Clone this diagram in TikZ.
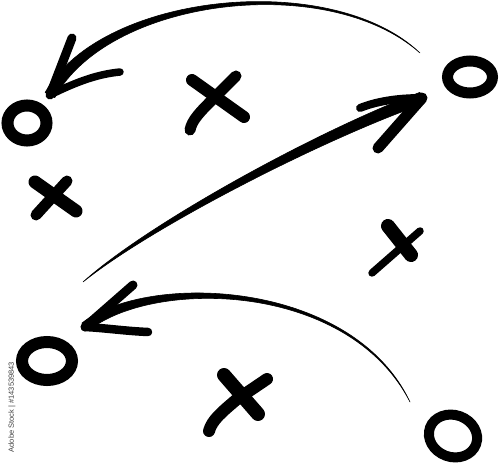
\documentclass[tikz,border=0pt]{standalone}
\usepackage{fontspec}
\setsansfont{Liberation Sans}
\begin{document}
\begin{tikzpicture}[x=1pt,y=-1pt,
  ring/.style={draw=black,line width=#1},
  stroke/.style={draw=black,line width=#1,line cap=round,line join=round},
  shaft/.style={fill=black,draw=black,line width=0.6pt,line join=round},
  mark text/.style={font=\sffamily\fontsize{7.5}{8}\selectfont,text=black!75,inner sep=0pt}]
\useasboundingbox (0,0) rectangle (500,470);

% players (circles)
\coordinate (o1) at (27,123);
\coordinate (o2) at (470,77);
\coordinate (o3) at (47,361);
\coordinate (o4) at (453,436);
\draw[ring=12] (o1) ellipse [x radius=19.5, y radius=17.5];
\draw[ring=11] (o2) ellipse [x radius=22.5, y radius=16];
\draw[ring=12] (o3) ellipse [x radius=25, y radius=19];
\draw[ring=10] (o4) [rotate around={-20:(o4)}] ellipse [x radius=24.5, y radius=21];

% opponents (crosses)
\coordinate (xa1) at (192,80);  \coordinate (xa2) at (244,117);
\coordinate (xa3) at (236,76);  \coordinate (xa4) at (190,130);
\draw[stroke=12] (xa1) -- (xa2);
\draw[stroke=11] (xa3) -- (214,98) .. controls (200,112) and (192,120) .. (xa4);

\coordinate (xb1) at (35,182);  \coordinate (xb2) at (76,211);
\coordinate (xb3) at (67,181);  \coordinate (xb4) at (36,215);
\draw[stroke=13] (xb1) -- (xb2);
\draw[stroke=11] (xb3) -- (xb4);

\coordinate (xc1) at (388,226); \coordinate (xc2) at (411,255);
\coordinate (xc3) at (420,231); \coordinate (xc4) at (372,273);
\draw[stroke=14] (xc1) -- (xc2);
\draw[stroke=7.5] (xc3) -- (xc4);

\coordinate (xd1) at (224,375); \coordinate (xd2) at (258,414);
\coordinate (xd3) at (267,379); \coordinate (xd4) at (209,431);
\draw[stroke=14] (xd1) -- (xd2);
\draw[stroke=12] (xd3) -- (236,400) .. controls (222,412) and (212,420) .. (xd4);

% top arrow: from right player back to top-left player
\coordinate (ta) at (50,95);
\coordinate (te) at (420,53);
\coordinate (tb1) at (72,38);
\coordinate (tb2) at (120,72);
\fill[shaft] (45.2,92.4) .. controls (100.6,-7.4) and (331.36,-31.47) .. (te)
   .. controls (328.64,-28.53) and (109.4,-2.6) .. (54.8,97.6) -- cycle;
\draw[stroke=9] (ta) -- (tb1);
\draw[stroke=7.5] (ta) .. controls (80,80) and (100,74) .. (tb2);

% middle arrow
\coordinate (ma) at (422,98);
\coordinate (me) at (83,282);
\coordinate (mb1) at (360,108);
\coordinate (mb2) at (378,148);
\fill[shaft] (me) .. controls (148.4,223.1) and (318.3,130.3) .. (419.95,92.36)
   -- (ma) -- (424.05,103.64) .. controls (321.7,139.7) and (151.6,226.9) .. (me) -- cycle;
\draw[stroke=8] (ma) .. controls (395,98) and (375,102) .. (mb1);
\draw[stroke=11] (ma) -- (mb2);

% bottom arrow
\coordinate (ba) at (85,327);
\coordinate (be) at (410,402);
\coordinate (bb1) at (133,285);
\coordinate (bb2) at (148,332);
\fill[shaft] (81.9,323.1) .. controls (147.2,271.5) and (351.8,279.12) .. (be)
   .. controls (348.2,280.88) and (152.8,278.5) .. (88.1,330.9) -- cycle;
\draw[stroke=9] (ba) -- (bb1);
\draw[stroke=8.5] (ba) .. controls (105,328) and (125,331) .. (bb2);

% stock mark
\node[mark text, rotate=90] (wm) at (12,407) {Adobe Stock | \#143539843};
\end{tikzpicture}
\end{document}
